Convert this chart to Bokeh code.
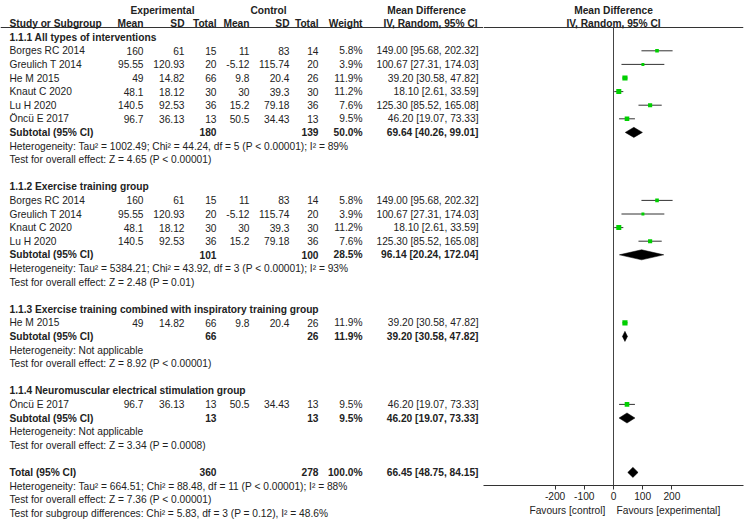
from bokeh.plotting import figure
from bokeh.models import ColumnDataSource, Range1d, FixedTicker
from bokeh.layouts import row, column
from bokeh.embed import file_html
from bokeh.resources import INLINE
from bokeh.core.properties import value

# ---------------- data ----------------
study_names = ["Borges RC 2014", "Greulich T 2014", "He M 2015", "Knaut C 2020", "Lu H 2020", "Öncü E 2017"]
exp_mean = [160, 95.55, 49, 48.1, 140.5, 96.7]
exp_sd = [61, 120.93, 14.82, 18.12, 92.53, 36.13]
exp_total = [15, 20, 66, 30, 36, 13]
ctl_mean = [11, -5.12, 9.8, 30, 15.2, 50.5]
ctl_sd = [83, 115.74, 20.4, 39.3, 79.18, 34.43]
ctl_total = [14, 20, 26, 30, 36, 13]
weight = [5.8, 3.9, 11.9, 11.2, 7.6, 9.5]
md = [149.00, 100.67, 39.20, 18.10, 125.30, 46.20]
md_lo = [95.68, 27.31, 30.58, 2.61, 85.52, 19.07]
md_hi = [202.32, 174.03, 47.82, 33.59, 165.08, 73.33]

subgroup_titles = [
    "1.1.1 All types of interventions",
    "1.1.2 Exercise training group",
    "1.1.3 Exercise training combined with inspiratory training group",
    "1.1.4 Neuromuscular electrical stimulation group",
]
subgroup_members = [[0, 1, 2, 3, 4, 5], [0, 1, 3, 4], [2], [5]]
sub_exp_total = [180, 101, 66, 13]
sub_ctl_total = [139, 100, 26, 13]
sub_weight = [50.0, 28.5, 11.9, 9.5]
sub_md = [69.64, 96.14, 39.20, 46.20]
sub_lo = [40.26, 20.24, 30.58, 19.07]
sub_hi = [99.01, 172.04, 47.82, 73.33]
sub_het = [
    "Heterogeneity: Tau² = 1002.49; Chi² = 44.24, df = 5 (P < 0.00001); I² = 89%",
    "Heterogeneity: Tau² = 5384.21; Chi² = 43.92, df = 3 (P < 0.00001); I² = 93%",
    "Heterogeneity: Not applicable",
    "Heterogeneity: Not applicable",
]
sub_effect = [
    "Test for overall effect: Z = 4.65 (P < 0.00001)",
    "Test for overall effect: Z = 2.48 (P = 0.01)",
    "Test for overall effect: Z = 8.92 (P < 0.00001)",
    "Test for overall effect: Z = 3.34 (P = 0.0008)",
]
total_exp = 360
total_ctl = 278
total_weight = 100.0
total_md = 66.45
total_lo = 48.75
total_hi = 84.15
total_het = "Heterogeneity: Tau² = 664.51; Chi² = 88.48, df = 11 (P < 0.00001); I² = 88%"
total_effect = "Test for overall effect: Z = 7.36 (P < 0.00001)"
subgroup_diff = "Test for subgroup differences: Chi² = 5.83, df = 3 (P = 0.12), I² = 48.6%"
x_ticks = [-200, -100, 0, 100, 200]
axis_left_label = "Favours [control]"
axis_right_label = "Favours [experimental]"

# ---------------- layout / style ----------------
FONT = "Liberation Sans"
FS = "10.2px"
TXT = "#222222"
LINE = "#333333"
GREEN = "#00d000"
H = 522
LEFT_W = 483
RIGHT_W = 270
RIGHT_PAD = 10
ROW0 = 9.5
PITCH = 13.6
AXIS_Y = 485
HDR_LINE_Y = 27
X_MIN, X_MAX = -445, 445
COL = dict(name=9, exp_mean=143, exp_sd=184, exp_n=216, ctl_mean=249, ctl_sd=289,
           ctl_n=318, weight=362, ci=478, exp_hdr=162, ctl_hdr=268, md_hdr=426, iv_hdr=430)

row_top = -ROW0 / PITCH
axis_row = (AXIS_Y - ROW0) / PITCH
hdr_row = (HDR_LINE_Y - ROW0) / PITCH

left = figure(width=LEFT_W, height=H, output_backend="svg", toolbar_location=None,
              x_range=Range1d(0, LEFT_W), y_range=Range1d((H - ROW0) / PITCH, row_top),
              x_axis_location=None, y_axis_location=None, min_border=0)
right = figure(width=RIGHT_W, height=H, output_backend="svg", toolbar_location=None,
               x_range=Range1d(X_MIN, X_MAX), y_range=Range1d(axis_row, row_top),
               y_axis_location=None, min_border=0)
right.min_border_bottom = H - AXIS_Y
right.min_border_right = RIGHT_PAD
for f in (left, right):
    f.outline_line_color = None
    f.grid.visible = False
    f.background_fill_color = "white"
    f.border_fill_color = "white"

texts = {}


def put(fig, x, y, t, align="left", bold=False):
    key = (fig, align, bold)
    d = texts.setdefault(key, dict(x=[], y=[], t=[]))
    d["x"].append(x)
    d["y"].append(y)
    d["t"].append(t)


def fmt(v):
    return f"{v:g}"


def ci_text(m, lo, hi):
    return f"{m:.2f} [{lo:.2f}, {hi:.2f}]"


put("L", COL["exp_hdr"], 0, "Experimental", "center", True)
put("L", COL["ctl_hdr"], 0, "Control", "center", True)
put("L", COL["md_hdr"], 0, "Mean Difference", "center", True)
put("R", 0, 0, "Mean Difference", "center", True)
put("L", COL["name"], 1, "Study or Subgroup", "left", True)
for key, lab in [("exp_mean", "Mean"), ("exp_sd", "SD"), ("exp_n", "Total"), ("ctl_mean", "Mean"),
                 ("ctl_sd", "SD"), ("ctl_n", "Total"), ("weight", "Weight")]:
    put("L", COL[key], 1, lab, "right", True)
put("L", COL["iv_hdr"], 1, "IV, Random, 95% CI", "center", True)
put("R", 0, 1, "IV, Random, 95% CI", "center", True)

seg = dict(x0=[], x1=[], y=[])
sq = dict(x=[], y=[], size=[])
dia = dict(xs=[], ys=[])
DH = 0.37


def diamond(y, m, lo, hi):
    dia["xs"].append([lo, m, hi, m])
    dia["ys"].append([y, y - DH, y, y + DH])


r = 2
for g, title in enumerate(subgroup_titles):
    put("L", COL["name"], r, title, "left", True)
    r += 1
    for i in subgroup_members[g]:
        put("L", COL["name"], r, study_names[i])
        put("L", COL["exp_mean"], r, fmt(exp_mean[i]), "right")
        put("L", COL["exp_sd"], r, fmt(exp_sd[i]), "right")
        put("L", COL["exp_n"], r, fmt(exp_total[i]), "right")
        put("L", COL["ctl_mean"], r, fmt(ctl_mean[i]), "right")
        put("L", COL["ctl_sd"], r, fmt(ctl_sd[i]), "right")
        put("L", COL["ctl_n"], r, fmt(ctl_total[i]), "right")
        put("L", COL["weight"], r, f"{weight[i]:.1f}%", "right")
        put("L", COL["ci"], r, ci_text(md[i], md_lo[i], md_hi[i]), "right")
        seg["x0"].append(md_lo[i]); seg["x1"].append(md_hi[i]); seg["y"].append(r)
        sq["x"].append(md[i]); sq["y"].append(r); sq["size"].append(1.5 * weight[i] ** 0.5)
        r += 1
    put("L", COL["name"], r, "Subtotal (95% CI)", "left", True)
    put("L", COL["exp_n"], r, fmt(sub_exp_total[g]), "right", True)
    put("L", COL["ctl_n"], r, fmt(sub_ctl_total[g]), "right", True)
    put("L", COL["weight"], r, f"{sub_weight[g]:.1f}%", "right", True)
    put("L", COL["ci"], r, ci_text(sub_md[g], sub_lo[g], sub_hi[g]), "right", True)
    diamond(r, sub_md[g], sub_lo[g], sub_hi[g])
    r += 1
    put("L", COL["name"], r, sub_het[g]); r += 1
    put("L", COL["name"], r, sub_effect[g]); r += 1
    r += 1

put("L", COL["name"], r, "Total (95% CI)", "left", True)
put("L", COL["exp_n"], r, fmt(total_exp), "right", True)
put("L", COL["ctl_n"], r, fmt(total_ctl), "right", True)
put("L", COL["weight"], r, f"{total_weight:.1f}%", "right", True)
put("L", COL["ci"], r, ci_text(total_md, total_lo, total_hi), "right", True)
diamond(r, total_md, total_lo, total_hi)
r += 1
put("L", COL["name"], r, total_het); r += 1
put("L", COL["name"], r, total_effect); r += 1
put("L", COL["name"], r, subgroup_diff); r += 1

left.segment(x0=[0], x1=[LEFT_W], y0=[hdr_row], y1=[hdr_row], line_color=LINE, line_width=1)
right.segment(x0=[X_MIN], x1=[X_MAX], y0=[hdr_row], y1=[hdr_row], line_color=LINE, line_width=1)
right.segment(x0=[0], x1=[0], y0=[hdr_row], y1=[axis_row], line_color="#444444", line_width=1)

right.segment(x0="x0", x1="x1", y0="y", y1="y", source=ColumnDataSource(seg), line_color=LINE, line_width=1)
right.scatter(x="x", y="y", size="size", marker="square", source=ColumnDataSource(sq),
              fill_color=GREEN, line_color=None)
right.patches(xs="xs", ys="ys", source=ColumnDataSource(dia), fill_color="black", line_color="black", line_width=0.5)

for (fk, align, bold), d in texts.items():
    fig = left if fk == "L" else right
    fig.text(x="x", y="y", text="t", source=ColumnDataSource(d), text_font=value(FONT),
             text_font_size=FS, text_color=TXT, text_align=align, text_baseline="middle",
             text_font_style="bold" if bold else "normal")

ax = right.xaxis[0]
ax.ticker = FixedTicker(ticks=x_ticks)
ax.major_label_overrides = {t: str(t) for t in x_ticks}
ax.minor_tick_line_color = None
ax.major_tick_in = 0
ax.major_tick_out = 4
ax.axis_line_color = LINE
ax.major_tick_line_color = LINE
ax.major_label_text_font = FONT
ax.major_label_text_font_size = FS
ax.major_label_text_color = TXT
ax.major_label_standoff = 2
NB = "\u00a0"
ax.axis_label = NB * 8 + axis_left_label + NB * 4 + axis_right_label
ax.axis_label_text_font = FONT
ax.axis_label_text_font_size = FS
ax.axis_label_text_font_style = "normal"
ax.axis_label_text_color = TXT
ax.axis_label_standoff = 2

p = row(column(left), column(right), spacing=0)
open("out.html", "w").write(file_html(p, INLINE))
